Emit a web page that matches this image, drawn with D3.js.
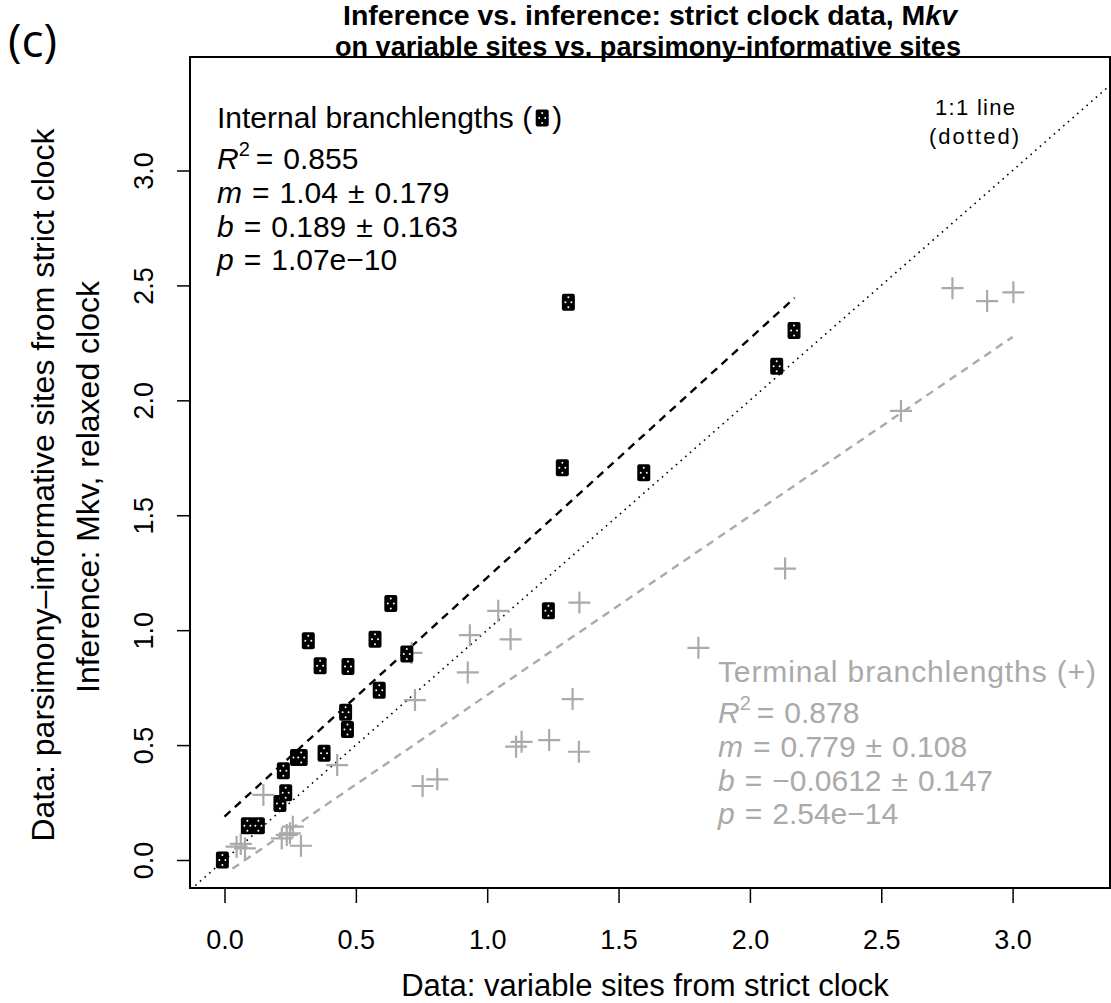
<!DOCTYPE html>
<html><head><meta charset="utf-8">
<script src="https://cdn.jsdelivr.net/npm/d3@7/dist/d3.min.js"></script>
<style>
html,body{margin:0;padding:0;background:#fff;}
svg{display:block;}
text{font-family:"Liberation Sans",Arial,Helvetica,sans-serif;}
</style></head><body>
<svg id="c" width="1111" height="1003"></svg>
<script>
// ---- data ----
const internalX = [-0.008,0.087,0.129,0.211,0.233,0.224,0.274,0.292,0.379,0.468,0.461,0.633,0.319,0.573,0.364,0.470,0.694,0.589,1.309,2.168,2.102,1.286,1.596,1.233];
const internalY = [0.0,0.149,0.149,0.246,0.293,0.388,0.446,0.446,0.464,0.568,0.643,1.116,0.954,0.961,0.845,0.842,0.896,0.739,2.427,2.304,2.148,1.707,1.685,1.084];
const terminalX = [2.771,2.903,3.003,2.575,2.134,1.042,1.351,1.089,1.804,1.325,1.110,1.131,1.236,1.349,0.934,0.712,0.926,0.725,0.429,0.148,0.754,0.810,0.260,0.218,0.237,0.249,0.291,0.046,0.078,0.062];
const terminalY = [2.488,2.432,2.470,1.954,1.268,1.084,1.120,0.960,0.923,0.700,0.493,0.514,0.522,0.471,0.978,0.901,0.816,0.696,0.413,0.283,0.322,0.351,0.145,0.094,0.109,0.116,0.062,0.058,0.051,0.070];
const tickValues = [0,0.5,1,1.5,2,2.5,3];
const internalFit = {m:1.04, b:0.189, x0:0.0, x1:2.17};
const terminalFit = {m:0.779, b:-0.0612, x0:0.03, x1:3.0};
const internalLegend = [["R","0.855"],["m","1.04","0.179"],["b","0.189","0.163"],["p","1.07e\u221210"]];
const terminalLegend = [["R","0.878"],["m","0.779","0.108"],["b","\u22120.0612","0.147"],["p","2.54e\u221214"]];

// ---- layout ----
const svg = d3.select("#c");
const x = d3.scaleLinear().domain([0,3]).range([224.5,1012.6]);
const y = d3.scaleLinear().domain([0,3]).range([860,170.5]);
const box = {l:190, r:1110, t:57, b:888};
const GRAY = "#aaaaaa";
const FS = 27, LFS = 30;

svg.append("defs").append("clipPath").attr("id","clip")
  .append("rect").attr("x",box.l).attr("y",box.t).attr("width",box.r-box.l).attr("height",box.b-box.t);

// title
const title = svg.append("g").attr("font-weight","bold")
  .style("font-family","'Liberation Sans Narrow','Roboto Condensed','Liberation Sans',sans-serif")
  .attr("font-size",28).attr("text-anchor","middle");
const t1 = title.append("text").attr("x",650).attr("y",25).attr("textLength",614).attr("lengthAdjust","spacingAndGlyphs");
t1.append("tspan").text("Inference vs. inference: strict clock data, M");
t1.append("tspan").attr("font-style","italic").text("kv");
title.append("text").attr("x",648).attr("y",56).attr("textLength",626).attr("lengthAdjust","spacingAndGlyphs")
  .text("on variable sites vs. parsimony-informative sites");

svg.append("text").attr("x",8).attr("y",57).attr("font-size",46)
  .style("font-family","'Open Sans','Liberation Sans',sans-serif").text("(c)");

// axes
const xAxis = d3.axisBottom(x).tickValues(tickValues).tickFormat(d3.format(".1f")).tickSize(15).tickPadding(27);
const gx = svg.append("g").attr("transform",`translate(0,${box.b})`).call(xAxis);
gx.select(".domain").remove();
gx.selectAll("line").attr("stroke","#000").attr("stroke-width",1.5);
gx.selectAll("text").attr("font-size",FS).attr("fill","#000").style("font-family","'Liberation Sans',Arial,sans-serif");

const yAxis = d3.axisLeft(y).tickValues(tickValues).tickFormat(d3.format(".1f")).tickSize(13);
const gy = svg.append("g").attr("transform",`translate(${box.l},0)`).call(yAxis);
gy.select(".domain").remove();
gy.selectAll("line").attr("stroke","#000").attr("stroke-width",1.5);
gy.selectAll("text").attr("x",null).attr("dy",null).attr("text-anchor","middle")
  .attr("transform","translate(-37,0) rotate(-90)")
  .attr("font-size",FS).attr("fill","#000").style("font-family","'Liberation Sans',Arial,sans-serif");

// axis titles
svg.append("text").attr("x",645).attr("y",996).attr("text-anchor","middle").attr("font-size",31)
  .text("Data: variable sites from strict clock");
svg.append("text").attr("transform","translate(54,485) rotate(-90)").attr("text-anchor","middle").attr("font-size",32)
  .text("Data: parsimony\u2013informative sites from strict clock");
svg.append("text").attr("transform","translate(99,487) rotate(-90)").attr("text-anchor","middle").attr("font-size",32)
  .text("Inference: Mkv, relaxed clock");

// plot area
const plot = svg.append("g").attr("clip-path","url(#clip)");
plot.append("line").attr("x1",x(-0.2)).attr("y1",y(-0.2)).attr("x2",x(3.6)).attr("y2",y(3.6))
  .attr("stroke","#000").attr("stroke-width",1.6).attr("stroke-dasharray","1.6 4.6");
plot.append("line").attr("x1",x(internalFit.x0)).attr("y1",y(internalFit.b+internalFit.m*internalFit.x0))
  .attr("x2",x(internalFit.x1)).attr("y2",y(internalFit.b+internalFit.m*internalFit.x1))
  .attr("stroke","#000").attr("stroke-width",2.4).attr("stroke-dasharray","8 6");
plot.append("line").attr("x1",x(terminalFit.x0)).attr("y1",y(terminalFit.b+terminalFit.m*terminalFit.x0))
  .attr("x2",x(terminalFit.x1)).attr("y2",y(terminalFit.b+terminalFit.m*terminalFit.x1))
  .attr("stroke",GRAY).attr("stroke-width",2.4).attr("stroke-dasharray","8 6");

const tData = terminalX.map((v,i)=>({x:v,y:terminalY[i]}));
plot.selectAll("path.cross").data(tData).join("path").attr("class","cross")
  .attr("d",d=>{const cx=x(d.x), cy=y(d.y), h=11; return `M${cx-h},${cy}H${cx+h}M${cx},${cy-h}V${cy+h}`;})
  .attr("stroke",GRAY).attr("stroke-width",2.2).attr("fill","none");

function marker(g, cx, cy){
  const m = g.append("g").attr("transform",`translate(${cx},${cy})`);
  m.append("rect").attr("x",-6.5).attr("y",-8.5).attr("width",13).attr("height",17).attr("rx",2).attr("fill","#000");
  [[0,-5],[-3,0],[3,0],[0,5]].forEach(p=>m.append("circle").attr("cx",p[0]).attr("cy",p[1]).attr("r",1).attr("fill","#fff"));
}
const iData = internalX.map((v,i)=>({x:v,y:internalY[i]}));
const mg = plot.append("g");
iData.forEach(d=>marker(mg, x(d.x), y(d.y)));

svg.append("rect").attr("x",box.l).attr("y",box.t).attr("width",box.r-box.l).attr("height",box.b-box.t)
  .attr("fill","none").attr("stroke","#000").attr("stroke-width",2);

svg.append("text").attr("x",975).attr("y",115).attr("text-anchor","middle").attr("font-size",22).attr("textLength",80).text("1:1 line");
svg.append("text").attr("x",974).attr("y",144).attr("text-anchor","middle").attr("font-size",22).attr("textLength",90).text("(dotted)");

// legends
function legend(x0, baseY, lines, color, sym){
  const g = svg.append("g").attr("fill",color).attr("font-size",LFS);
  const ht = g.append("text").attr("x",x0).attr("y",baseY[0]);
  if(sym){
    ht.text("Internal branchlengths (");
    const w = ht.node().getComputedTextLength();
    marker(g, x0+w+10, baseY[0]-10);
    g.append("text").attr("x",x0+w+20).attr("y",baseY[0]).text(")");
  } else ht.attr("textLength",378).text("Terminal branchlengths (+)");
  lines.forEach((s,i)=>{
    const t = g.append("text").attr("x",x0).attr("y",baseY[i+1]);
    t.append("tspan").attr("font-style","italic").text(s[0]);
    if(s[0]==="R"){
      t.append("tspan").attr("font-size",20).attr("dy",-13).text("2");
      t.append("tspan").attr("dy",13).attr("dx",6).text("=");
    } else {
      t.append("tspan").attr("dx",10).text("=");
    }
    t.append("tspan").attr("dx",10).text(s[1]);
    if(s.length>2){
      t.append("tspan").attr("dx",10).text("±");
      t.append("tspan").attr("dx",10).text(s[2]);
    }
  });
}
legend(217,[128,169,203,237,270],internalLegend,"#000",true);
legend(718,[682,723,757,791,824],terminalLegend,GRAY,false);
</script>
</body></html>
